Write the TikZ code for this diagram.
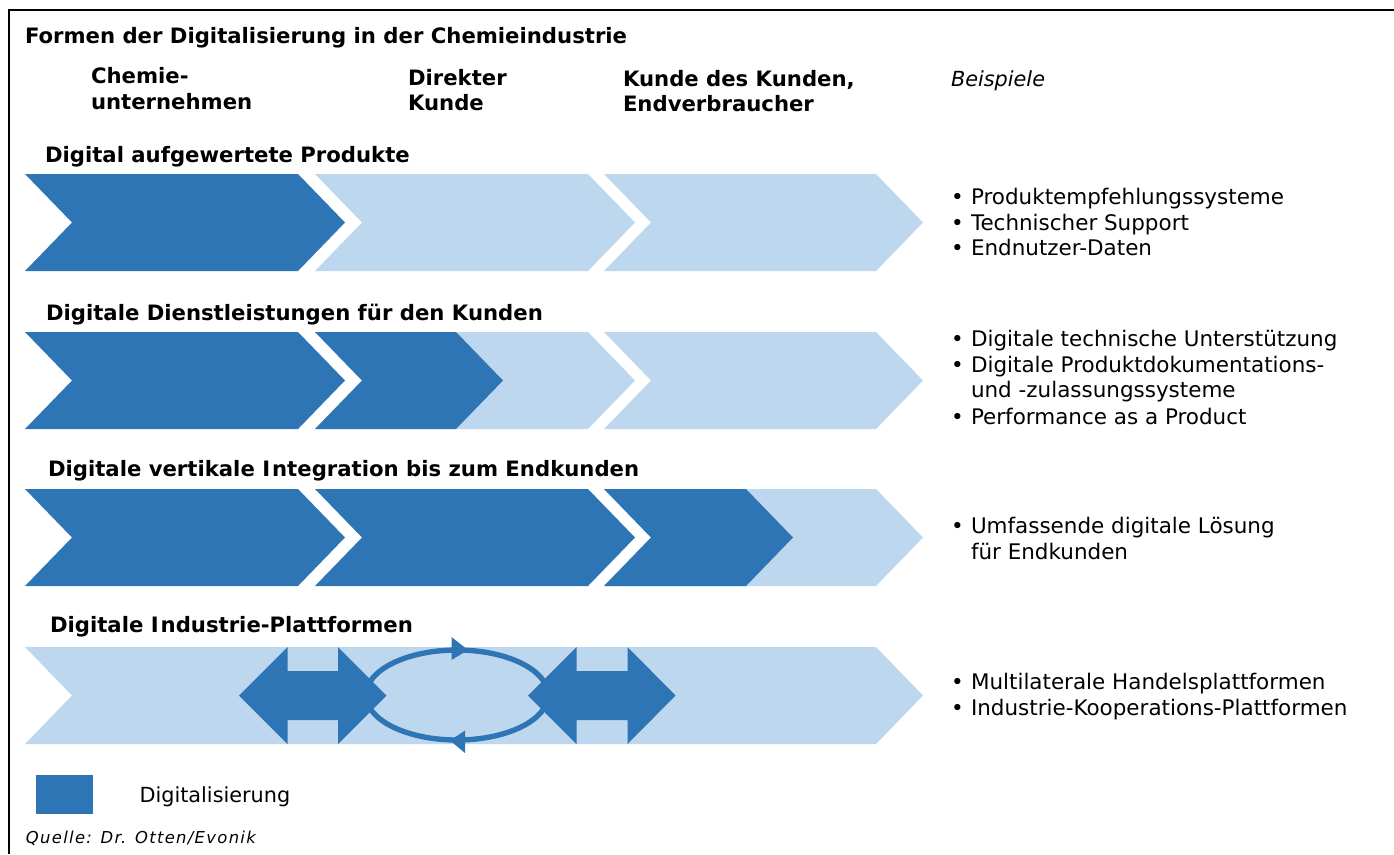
\documentclass[tikz,border=0pt]{standalone}
\usepackage{fontspec}
\setmainfont{DejaVu Sans}
\definecolor{dblue}{RGB}{46,117,182}
\definecolor{lblue}{RGB}{189,215,238}
\newcommand\chev[5]{\fill[#5] (#1,#3) -- (#2,#3) -- ({#2+47},{(#3+#4)/2}) -- (#2,#4) -- (#1,#4) -- ({#1+47},{(#3+#4)/2}) -- cycle;}
\newcommand\dblarrow[4]{\fill[dblue] (#1,695.5) -- (#2,647) -- (#2,671) -- (#3,671) -- (#3,647) -- (#4,695.5) -- (#3,744) -- (#3,720) -- (#2,720) -- (#2,744) -- cycle;}
\tikzset{
  txt/.style={inner sep=0pt, outer sep=0pt, anchor=base west, font=\fontsize{16.1pt}{19pt}\selectfont},
  leg/.style={txt, font=\fontsize{15.6pt}{19pt}\selectfont},
  hd/.style={txt, font=\fontsize{15.9pt}{19pt}\selectfont\bfseries},
  it/.style={txt, font=\fontsize{15.6pt}{19pt}\selectfont\itshape},
  src/.style={txt, font=\fontsize{12.3pt}{14pt}\selectfont\itshape\addfontfeature{LetterSpace=8}},
  frame/.style={line width=1.7pt, black},
  loop/.style={draw=dblue, line width=4pt},
}
\begin{document}
\begin{tikzpicture}[x=0.75pt, y=-0.75pt]
\useasboundingbox (0,0) rectangle (1394,854);
\draw[frame] (9,854) -- (9,10) -- (1394,10);
% header
\node[hd] (title) at (25,43) {Formen der Digitalisierung in der Chemieindustrie};
\node[hd] (c1a) at (91,83.5) {Chemie-};
\node[hd] (c1b) at (91,109.5) {unternehmen};
\node[hd] (c2a) at (408,85) {Direkter};
\node[hd] (c2b) at (408,110) {Kunde};
\node[hd] (c3a) at (623,86) {Kunde des Kunden,};
\node[hd] (c3b) at (623,111) {Endverbraucher};
\node[it] (bsp) at (951,86.5) {Beispiele};
% row 1
\node[hd] (r1) at (45,162) {Digital aufgewertete Produkte};
\chev{25}{298}{174}{271}{dblue}
\chev{315}{588}{174}{271}{lblue}
\chev{604}{876}{174}{271}{lblue}
\node[txt] (b1a) at (951,204) {•};
\node[txt] (t1a) at (971,204) {Produktempfehlungssysteme};
\node[txt] (b1b) at (951,230) {•};
\node[txt] (t1b) at (971,230) {Technischer Support};
\node[txt] (b1c) at (951,255.5) {•};
\node[txt] (t1c) at (971,255.5) {Endnutzer-Daten};
% row 2
\node[hd] (r2) at (46,320) {Digitale Dienstleistungen für den Kunden};
\chev{25}{298}{332}{429}{dblue}
\chev{315}{588}{332}{429}{lblue}
\chev{315}{456}{332}{429}{dblue}
\chev{604}{876}{332}{429}{lblue}
\node[txt] (b2a) at (951,346.5) {•};
\node[txt] (t2a) at (971,346.5) {Digitale technische Unterstützung};
\node[txt] (b2b) at (951,372) {•};
\node[txt] (t2b) at (971,372) {Digitale Produktdokumentations-};
\node[txt] (t2c) at (971,397.5) {und -zulassungssysteme};
\node[txt] (b2d) at (951,424) {•};
\node[txt] (t2d) at (971,424) {Performance as a Product};
% row 3
\node[hd] (r3) at (48,476) {Digitale vertikale I\kern1.5pt ntegration bis zum Endkunden};
\chev{25}{298}{489}{586}{dblue}
\chev{315}{588}{489}{586}{dblue}
\chev{604}{876}{489}{586}{lblue}
\chev{604}{746}{489}{586}{dblue}
\node[txt] (b3a) at (951,533) {•};
\node[txt] (t3a) at (971,533) {Umfassende digitale Lösung};
\node[txt] (t3b) at (971,559) {für Endkunden};
% row 4
\node[hd] (r4) at (50,632) {Digitale I\kern1.5pt ndustrie-Plattformen};
\chev{25}{876}{647}{744}{lblue}
\draw[loop] (457,695) ellipse [x radius=91, y radius=45];
\fill[dblue] (451.5,637) -- (468,650) -- (451.5,660) -- cycle;
\fill[dblue] (465,730.5) -- (450,740.5) -- (465,753) -- cycle;
\dblarrow{239}{287.5}{338}{386.5}
\dblarrow{528}{576.5}{627.5}{675.5}
\node[txt] (b4a) at (951,689) {•};
\node[txt] (t4a) at (971,689) {Multilaterale Handelsplattformen};
\node[txt] (b4b) at (951,715) {•};
\node[txt] (t4b) at (971,715) {Industrie-Kooperations-Plattformen};
% legend
\fill[dblue] (36,775) rectangle (92.5,814);
\node[leg] (leg) at (139.5,802.5) {Digitalisierung};
\node[src] (quelle) at (26,843.5) {Quelle: Dr. Otten/Evonik};
\end{tikzpicture}
\end{document}
